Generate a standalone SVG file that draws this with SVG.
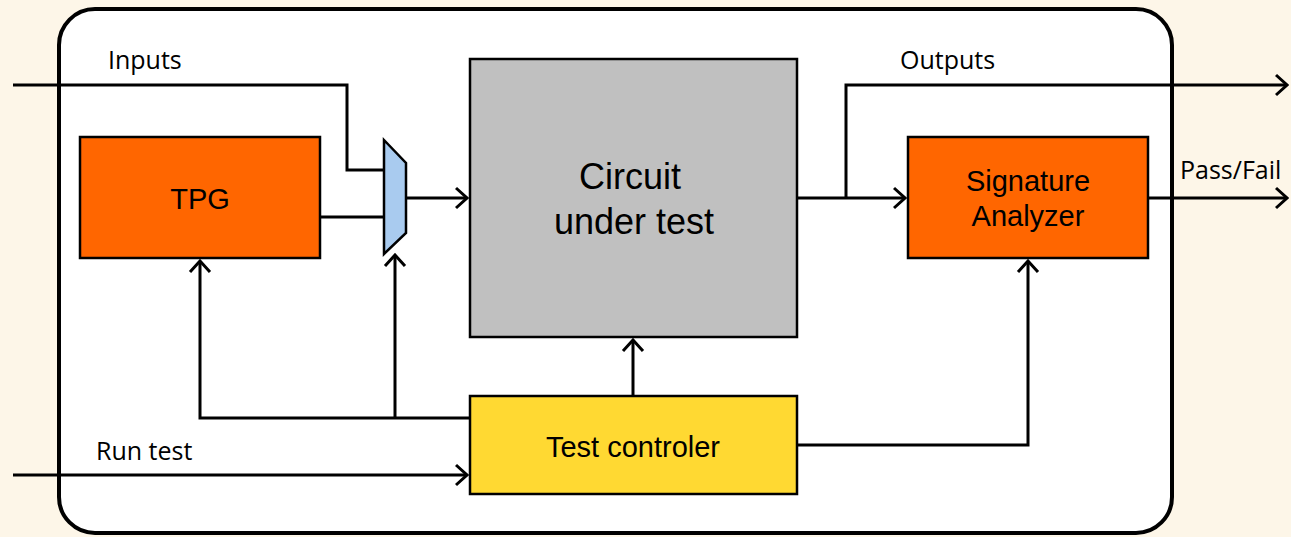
<svg xmlns="http://www.w3.org/2000/svg" width="1291" height="537" viewBox="0 0 1291 537">
<style>
.box{stroke:#000;stroke-width:2.5}
.w{fill:none;stroke:#000;stroke-width:3}
.lbl{font-family:"Open Sans","Liberation Sans",sans-serif;font-size:25px;fill:#000}
.bt{font-family:"Liberation Sans",Arial,sans-serif;fill:#000;text-anchor:middle}
</style>
<defs>
<marker id="ah" viewBox="-12 -12 14 24" markerWidth="14" markerHeight="24" refX="0" refY="0" orient="auto" markerUnits="userSpaceOnUse">
<path d="M-11,-10 L0,0 L-11,10" fill="none" stroke="#000" stroke-width="3"/>
</marker>
</defs>
<rect x="0" y="0" width="1291" height="537" fill="#FDF6E8"/>
<rect id="frame" x="59" y="9" width="1113" height="524" rx="36" fill="#fff" stroke="#000" stroke-width="4"/>
<g id="connectors" class="w">
<path d="M13,85 H347 V170 H384"/>
<path d="M320,217 H384"/>
<path d="M406,198 H467" marker-end="url(#ah)"/>
<path d="M797,198 H905" marker-end="url(#ah)"/>
<path d="M846,198 V85 H1287" marker-end="url(#ah)"/>
<path d="M1148,198 H1287" marker-end="url(#ah)"/>
<path d="M633,396 V340" marker-end="url(#ah)"/>
<path d="M797,445 H1028 V261" marker-end="url(#ah)"/>
<path d="M470,418 H200 V261" marker-end="url(#ah)"/>
<path d="M395,418 V255" marker-end="url(#ah)"/>
<path d="M13,475 H467" marker-end="url(#ah)"/>
</g>
<g id="tpg"><rect class="box" x="80" y="137" width="240" height="121" fill="#FF6600"/><text class="bt" x="200" y="209" font-size="29">TPG</text></g>
<g id="mux"><polygon class="box" points="384,140 406,163 406,233 384,254" fill="#A9CBEF"/></g>
<g id="cut"><rect class="box" x="470" y="59" width="327" height="278" fill="#C0C0C0"/><text class="bt" x="630" y="189" font-size="36">Circuit</text><text class="bt" x="634" y="234" font-size="36">under test</text></g>
<g id="sa"><rect class="box" x="908" y="137" width="240" height="121" fill="#FF6600"/><text class="bt" x="1028" y="191" font-size="29">Signature</text><text class="bt" x="1028" y="226" font-size="29">Analyzer</text></g>
<g id="tc"><rect class="box" x="470" y="396" width="327" height="98" fill="#FFD932"/><text class="bt" x="633" y="457" font-size="29">Test controler</text></g>
<text class="lbl" x="108" y="69">Inputs</text>
<text class="lbl" x="900" y="69">Outputs</text>
<text class="lbl" x="1180" y="179">Pass/Fail</text>
<text class="lbl" x="96" y="460">Run test</text>
</svg>
